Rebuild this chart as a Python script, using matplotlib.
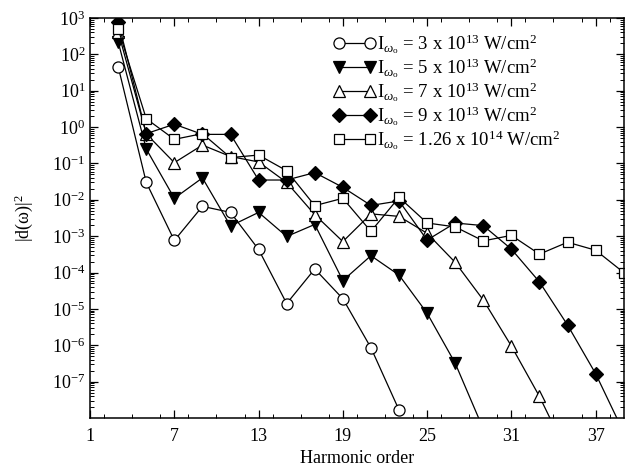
import matplotlib
matplotlib.use('Agg')
import matplotlib.pyplot as plt
import matplotlib.ticker as mticker
import numpy as np

# ── Datos ─────────────────────────────────────────────────────────────────────
orden_3e13 = [3, 5, 7, 9, 11, 13, 15, 17, 19, 21, 23]
d_3e13 = [46, 0.030, 7.6e-4, 6.6e-3, 4.5e-3, 4.3e-4, 1.4e-5, 1.25e-4,
          1.9e-5, 8.5e-7, 1.65e-8]

orden_5e13 = [3, 5, 7, 9, 11, 13, 15, 17, 19, 21, 23, 25, 27, 29]
d_5e13 = [220, 0.25, 0.011, 0.04, 1.9e-3, 4.5e-3, 9.8e-4, 2.1e-3, 6.0e-5,
          2.9e-4, 8.5e-5, 7.6e-6, 3.2e-7, 5e-9]

orden_7e13 = [3, 5, 7, 9, 11, 13, 15, 17, 19, 21, 23, 25, 27, 29, 31, 33, 35]
d_7e13 = [420, 0.65, 0.105, 0.32, 0.155, 0.11, 0.03, 3.9e-3, 7.1e-4,
          4.1e-3, 3.5e-3, 1.2e-3, 1.9e-4, 1.75e-5, 9.5e-7, 3.9e-8, 1e-9]

orden_9e13 = [3, 5, 7, 9, 11, 13, 15, 17, 19, 21, 23, 25, 27, 29, 31, 33,
              35, 37, 39]
d_9e13 = [800, 0.66, 1.2, 0.63, 0.63, 0.035, 0.035, 0.056, 0.022, 7e-3,
          9.3e-3, 7.8e-4, 2.3e-3, 1.95e-3, 4.4e-4, 5.5e-5, 3.6e-6, 1.65e-7,
          4e-9]

orden_126e14 = [3, 5, 7, 9, 11, 13, 15, 17, 19, 21, 23, 25, 27, 29, 31, 33,
                35, 37, 39]
d_126e14 = [500, 1.7, 0.46, 0.66, 0.145, 0.17, 0.063, 6.9e-3, 0.011,
            1.35e-3, 0.0117, 2.3e-3, 1.8e-3, 7.4e-4, 1.05e-3, 3.2e-4, 6.8e-4,
            4.1e-4, 1.0e-4]

etiquetas = [
    r'I$_{\omega_{\rm o}}$ = 3 x 10$^{13}$ W/cm$^{2}$',
    r'I$_{\omega_{\rm o}}$ = 5 x 10$^{13}$ W/cm$^{2}$',
    r'I$_{\omega_{\rm o}}$ = 7 x 10$^{13}$ W/cm$^{2}$',
    r'I$_{\omega_{\rm o}}$ = 9 x 10$^{13}$ W/cm$^{2}$',
    r'I$_{\omega_{\rm o}}$ = 1.26 x 10$^{14}$ W/cm$^{2}$',
]

ticks_x = [1, 7, 13, 19, 25, 31, 37]

# ── Estilo ────────────────────────────────────────────────────────────────────
plt.rcParams.update({
    'font.family': ['Liberation Serif', 'DejaVu Serif'],
    'mathtext.fontset': 'custom',
    'mathtext.rm': 'Liberation Serif',
    'mathtext.it': 'Liberation Serif:italic',
    'mathtext.bf': 'Liberation Serif:bold',
    'axes.linewidth': 1.1,
    'xtick.direction': 'in',
    'ytick.direction': 'in',
    'xtick.top': True,
    'ytick.right': True,
})

fig = plt.figure(figsize=(6.3, 4.68), dpi=100)
ax = fig.add_axes([0.143, 0.107, 0.847, 0.8545])

series = [
    (orden_3e13, d_3e13, 'o', 'white', 8),
    (orden_5e13, d_5e13, 'v', 'black', 9),
    (orden_7e13, d_7e13, '^', 'white', 9),
    (orden_9e13, d_9e13, 'D', 'black', 7),
    (orden_126e14, d_126e14, 's', 'white', 7.5),
]

for (x, y, m, fc, ms), lab in zip(series, etiquetas):
    ax.plot(x, y, color='black', lw=0.9, marker=m, markersize=ms,
            markerfacecolor=fc, markeredgecolor='black', markeredgewidth=0.9,
            label=lab)

ax.set_yscale('log')
ax.set_xlim(1, 39)
ax.set_ylim(1e-8, 1e3)
ax.set_xticks(ticks_x)
ax.xaxis.set_minor_locator(mticker.MultipleLocator(2))
ax.yaxis.set_major_locator(mticker.LogLocator(base=10, numticks=20))
ax.yaxis.set_minor_locator(mticker.LogLocator(base=10, subs=np.arange(2, 10),
                                              numticks=20))
ax.yaxis.set_minor_formatter(mticker.NullFormatter())
ticks_y = ax.get_yticks()
ax.set_yticks([t for t in ticks_y if 1e-7 <= t <= 1e3])

ax.tick_params(which='major', length=6, width=0.9, labelsize=13)
ax.tick_params(which='minor', length=3, width=0.7)
ax.tick_params(axis='x', pad=7)

ax.set_xlabel('Harmonic order', fontsize=13, labelpad=4)
ax.set_ylabel(r'|d(ω)|$^{2}$', fontsize=13, labelpad=12)

ax.legend(loc='upper left', bbox_to_anchor=(0.455, 0.965), frameon=False,
          fontsize=13.5, handlelength=2.3, handletextpad=0.05,
          labelspacing=0.0, borderpad=0, borderaxespad=0, numpoints=2)

fig.savefig('out.png', dpi=100)
